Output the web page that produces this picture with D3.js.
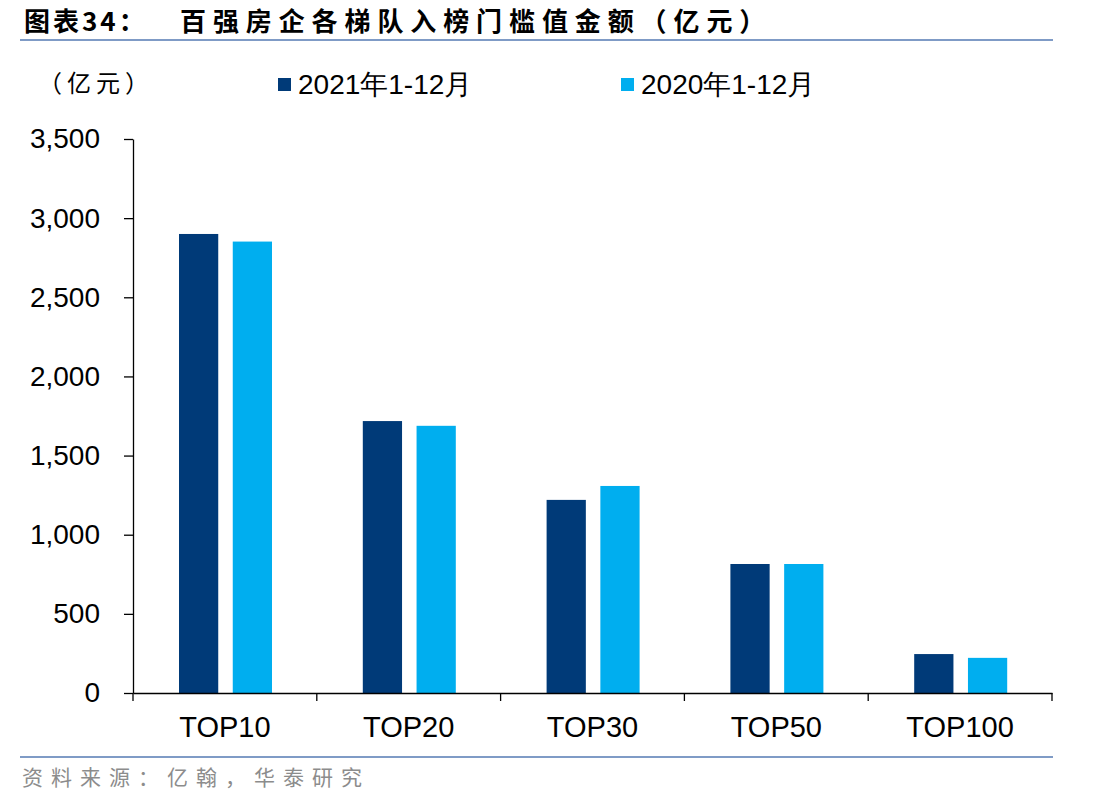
<!DOCTYPE html>
<html>
<head>
<meta charset="utf-8">
<script src="https://cdn.jsdelivr.net/npm/d3@7"></script>
<style>
  body { margin: 0; background: #fff; }
  svg { display: block; }
</style>
</head>
<body>
<div id="chart"></div>
<script>
const categories = ['TOP10', 'TOP20', 'TOP30', 'TOP50', 'TOP100'];
const seriesNames = ['2021年1-12月', '2020年1-12月'];
const values2021 = [2900, 1718, 1220, 815, 246];
const values2020 = [2852, 1688, 1308, 815, 222];
const yTicks = [0, 500, 1000, 1500, 2000, 2500, 3000, 3500];
const colors = ['#003A78', '#00AEEF'];

const width = 1112, height = 812;
const svg = d3.select('#chart').append('svg')
  .attr('width', width).attr('height', height);

const cjk = '"Noto Sans CJK SC", sans-serif';
const latin = '"Liberation Sans", Arial, sans-serif';

// title
svg.append('text')
  .attr('x', 24).attr('y', 31)
  .attr('font-family', cjk).attr('font-weight', 700).attr('font-size', 26)
  .attr('letter-spacing', 3).attr('fill', '#000')
  .text('图表34：');
svg.append('text')
  .attr('x', 180).attr('y', 31)
  .attr('font-family', cjk).attr('font-weight', 700).attr('font-size', 26)
  .attr('letter-spacing', 6.9).attr('fill', '#000')
  .text('百强房企各梯队入榜门槛值金额（亿元）');
svg.append('line')
  .attr('x1', 20).attr('x2', 1053).attr('y1', 40).attr('y2', 40)
  .attr('stroke', '#7F9BC6').attr('stroke-width', 2);

const x0 = d3.scaleBand().domain(categories).range([133, 1052]);
const x1 = d3.scaleBand().domain(seriesNames).range([46, 139]).paddingInner(0.27);
const y = d3.scaleLinear().domain([0, 3500]).range([693, 139]);

const data = categories.map((c, i) => ({ cat: c, vals: [values2021[i], values2020[i]] }));

const groups = svg.append('g').selectAll('g')
  .data(data).enter().append('g')
  .attr('transform', d => `translate(${x0(d.cat)},0)`);

groups.selectAll('rect')
  .data(d => d.vals.map((v, j) => ({ v, j })))
  .enter().append('rect')
  .attr('x', d => x1(seriesNames[d.j]))
  .attr('width', x1.bandwidth())
  .attr('y', d => y(d.v))
  .attr('height', d => y(0) - y(d.v))
  .attr('fill', d => colors[d.j]);

// y axis
const yAxis = svg.append('g')
  .attr('transform', 'translate(133,0)')
  .call(d3.axisLeft(y).tickValues(yTicks).tickFormat(d3.format(',')).tickSize(9).tickSizeOuter(0).tickPadding(24));
yAxis.selectAll('text').attr('font-family', latin).attr('font-size', 28).attr('fill', '#000');
yAxis.selectAll('line, path').attr('stroke', '#000').attr('stroke-width', 1.3);

// x axis
const xAxis = svg.append('g')
  .attr('transform', 'translate(0,693)')
  .call(d3.axisBottom(x0).tickSize(0));
xAxis.select('path').attr('stroke', '#000').attr('stroke-width', 1.3);
xAxis.selectAll('text').attr('font-family', latin).attr('font-size', 29).attr('fill', '#000')
  .attr('y', 44).attr('dy', 0);
// boundary ticks between categories
const bounds = categories.map(c => x0(c)).concat([x0.range()[1]]);
svg.append('g').selectAll('line')
  .data(bounds).enter().append('line')
  .attr('x1', d => d).attr('x2', d => d)
  .attr('y1', 693).attr('y2', 701)
  .attr('stroke', '#000').attr('stroke-width', 1.3);

// unit label
svg.append('text')
  .attr('x', 38).attr('y', 92)
  .attr('font-family', cjk).attr('font-size', 24).attr('letter-spacing', 5).attr('fill', '#000')
  .text('（亿元）');

// legend
const legendX = [278, 621];
const legend = svg.append('g').selectAll('g')
  .data(seriesNames).enter().append('g')
  .attr('transform', (d, i) => `translate(${legendX[i]},0)`);
legend.append('rect')
  .attr('x', 0).attr('y', 78).attr('width', 13).attr('height', 13)
  .attr('fill', (d, i) => colors[i]);
legend.append('text')
  .attr('x', 20).attr('y', 94)
  .attr('font-family', latin).attr('font-size', 28).attr('fill', '#000')
  .text(d => d);

// footer
svg.append('line')
  .attr('x1', 20).attr('x2', 1053).attr('y1', 757).attr('y2', 757)
  .attr('stroke', '#7F9BC6').attr('stroke-width', 2);
svg.append('text')
  .attr('x', 22).attr('y', 785)
  .attr('font-family', cjk).attr('font-size', 21).attr('letter-spacing', 8).attr('fill', '#8C8C8C')
  .text('资料来源：亿翰，华泰研究');
</script>
</body>
</html>
